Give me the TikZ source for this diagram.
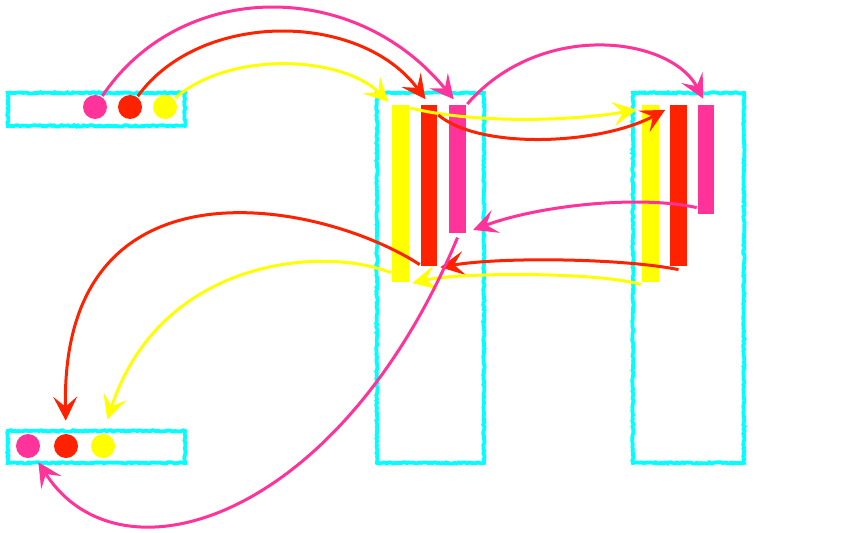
\documentclass[tikz,border=0pt]{standalone}
\usetikzlibrary{arrows.meta, decorations.pathmorphing}
\definecolor{cpink}{HTML}{FF3399}
\definecolor{cred}{HTML}{FF2200}
\definecolor{cyellow}{HTML}{FFFF00}
\definecolor{ccyan}{HTML}{00FFFF}
\tikzset{
  every picture/.style={line width=2.6pt},
  frame/.style={draw=ccyan, line width=3.8pt, inner sep=0pt, anchor=north west,
    decorate, decoration={random steps, segment length=2pt, amplitude=0.7pt}},
  dot/.style={circle, fill=#1, minimum size=24pt, inner sep=0pt},
  bar/.style={fill=#1, anchor=north, minimum width=17pt, inner sep=0pt},
  arrow/.style={draw=#1, line width=3pt, -{Stealth[length=24pt, width=24pt, inset=10pt]}},
}
\pgfmathsetseed{7}
\begin{document}
\begin{tikzpicture}[x=1pt, y=-1pt]
  \useasboundingbox (0,0) rectangle (850,532);
  % frames
  \node[frame, minimum width=177pt, minimum height=33pt] (top) at (6,91) {};
  \node[frame, minimum width=177pt, minimum height=32pt] (bot) at (6,429) {};
  \node[frame, minimum width=107pt, minimum height=370pt] (mid) at (375,91) {};
  \node[frame, minimum width=111pt, minimum height=370pt] (rgt) at (631,91) {};
  % dots
  \node[dot=cpink] (tp) at (95,107) {};
  \node[dot=cred] (tr) at (130,107) {};
  \node[dot=cyellow] (ty) at (165,107) {};
  \node[dot=cpink] (bp) at (28,446) {};
  \node[dot=cred] (br) at (66,446) {};
  \node[dot=cyellow] (by) at (103,446) {};
  % bars
  \node[bar=cyellow, minimum height=177pt] (my) at (400.5,104) {};
  \node[bar=cred, minimum height=161pt, minimum width=16pt] (mr) at (429,104) {};
  \node[bar=cpink, minimum height=128pt] (mp) at (457.5,104) {};
  \node[bar=cyellow, minimum height=177pt] (ry) at (650.5,104) {};
  \node[bar=cred, minimum height=161pt] (rr) at (678.5,104) {};
  \node[bar=cpink, minimum height=109pt, minimum width=16pt] (rp) at (706,104) {};
  % dots to middle
  \draw[arrow=cpink, shorten >=6pt] (tp) .. controls (180,-20) and (354,-23) .. (mp.north);
  \draw[arrow=cred, shorten >=6pt] (tr) .. controls (200,10) and (360,11) .. (mr.north);
  \draw[arrow=cyellow, shorten >=3pt] (ty) .. controls (230,50) and (342,56) .. (my.north west);
  % middle to right
  \draw[arrow=cpink, shorten >=6pt] (mp.north east) .. controls (540,20) and (670,36) .. (rp.north);
  \draw[arrow=cyellow, shorten >=4pt] ([yshift=-4pt]my.north east) .. controls (480,125) and (580,120) .. ([yshift=-5pt]ry.north west);
  \draw[arrow=cred, shorten >=4pt] ([yshift=-11pt]mr.north east) .. controls (480,150) and (600,145) .. ([yshift=-4pt]rr.north west);
  % right to middle
  \draw[arrow=cpink, shorten >=2pt] ([yshift=8pt]rp.south west) .. controls (640,195) and (540,205) .. ([xshift=4pt,yshift=4pt]mp.south east);
  \draw[arrow=cred, shorten >=2pt] ([yshift=-2pt]rr.south) .. controls (620,258) and (500,257) .. (mr.south east);
  \draw[arrow=cyellow, shorten >=2pt] ([yshift=-1pt]ry.south west) .. controls (600,272) and (460,272) .. (my.south east);
  % middle to bottom
  \draw[arrow=cred, shorten >=12pt] ([yshift=3pt]mr.south west) .. controls (320,200) and (60,150) .. (br.north);
  \draw[arrow=cyellow, shorten >=14pt] ([yshift=11pt]my.south west) .. controls (320,245) and (160,260) .. (by.north);
  \draw[arrow=cpink, shorten >=6pt] ([yshift=-3pt]mp.south) .. controls (340,520) and (120,590) .. (bp);
\end{tikzpicture}
\end{document}
